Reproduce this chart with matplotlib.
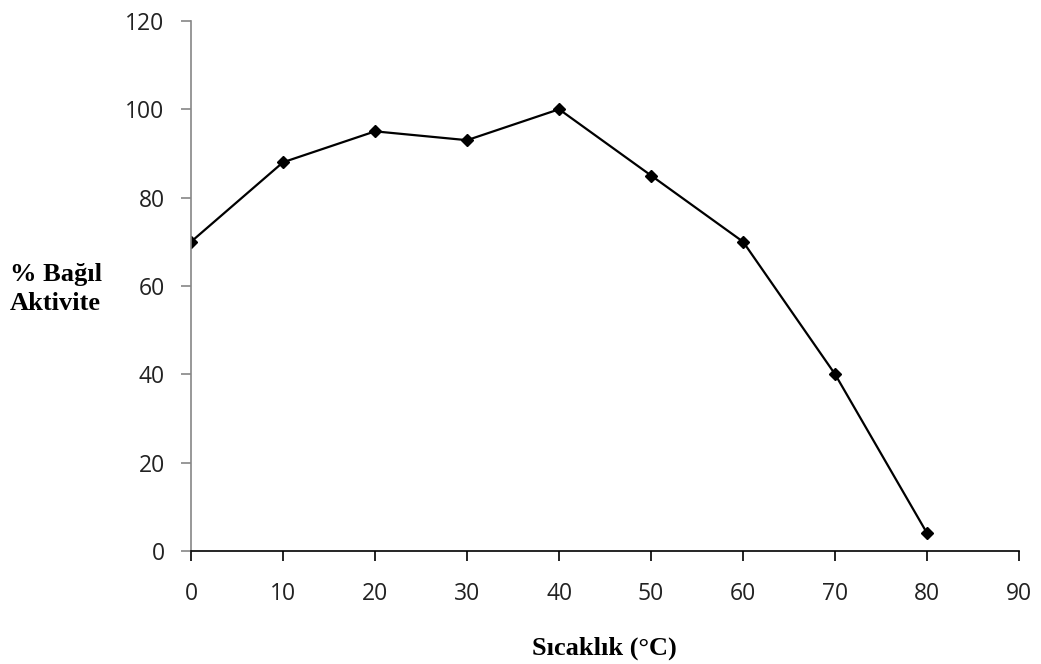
import matplotlib
matplotlib.use("Agg")
import matplotlib.pyplot as plt

temperature = [0, 10, 20, 30, 40, 50, 60, 70, 80]
relative_activity = [70, 88, 95, 93, 100, 85, 70, 40, 4]
x_ticks = [0, 10, 20, 30, 40, 50, 60, 70, 80, 90]
y_ticks = [0, 20, 40, 60, 80, 100, 120]

fig = plt.figure(figsize=(10.41, 6.64), dpi=100)
ax = fig.add_axes([0.1835, 0.1702, 0.7955, 0.7983])

ax.plot(temperature, relative_activity, color="black", linewidth=1.6,
        marker="D", markersize=6.5, markerfacecolor="black", markeredgecolor="black")

ax.set_xlim(0, 90)
ax.set_ylim(0, 120)
ax.set_xticks(x_ticks)
ax.set_yticks(y_ticks)

axis_color = "#868686"
for side in ("top", "right"):
    ax.spines[side].set_visible(False)
ax.spines["left"].set_color(axis_color)
ax.spines["left"].set_linewidth(1.2)
ax.spines["bottom"].set_color("black")
ax.spines["bottom"].set_linewidth(1.2)

ax.tick_params(axis="both", direction="out", length=7, width=1.2, color=axis_color,
               labelsize=16.5, labelcolor="#222222")
ax.tick_params(axis="x", pad=15, color="black")
ax.tick_params(axis="y", pad=12)
for lbl in ax.get_xticklabels() + ax.get_yticklabels():
    lbl.set_family("Open Sans")

fig.text(10 / 1041, 1 - 289 / 664, "% Bağıl\nAktivite", ha="left", va="center",
         family="Liberation Serif", fontweight="bold", fontsize=19, linespacing=1.38)
fig.text(604 / 1041, 1 - 648 / 664, "Sıcaklık (°C)", ha="center", va="center",
         family="Liberation Serif", fontweight="bold", fontsize=19)

fig.savefig("out.png", dpi=100)
